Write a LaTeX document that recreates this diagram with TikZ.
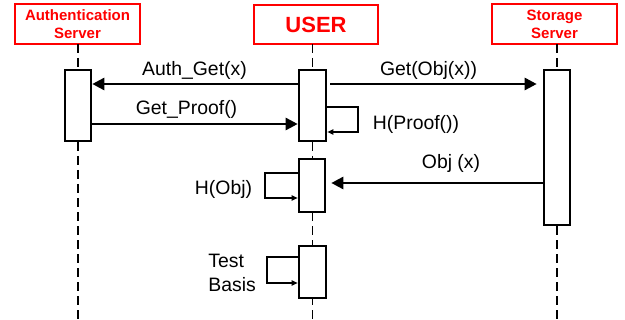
\documentclass[tikz,border=0pt]{standalone}
\usepackage{fontspec}
\setmainfont{Liberation Sans}
\usetikzlibrary{arrows.meta}
\begin{document}
\begin{tikzpicture}[x=0.5pt,y=-0.5pt,
  hdr/.style={draw=red, line width=1.2pt, text=red, fill=white, align=center, inner sep=0pt},
  act/.style={draw=black, line width=1.3pt, fill=white, inner sep=0pt},
  life/.style={line width=0.9pt, dash pattern=on 4.5pt off 2.5pt},
  msg/.style={line width=1.3pt, -{Triangle[length=6pt,width=6pt]}},
  selfmsg/.style={line width=1pt, -{Triangle[length=3pt,width=2.6pt]}},
  lbl/.style={font=\fontsize{9.7}{11.5}\selectfont, inner sep=0pt}]
\useasboundingbox (0,0) rectangle (625,320);
\coordinate (bottom) at (0,322);
% headers
\node[hdr, minimum width=62.5pt, minimum height=20pt, font=\bfseries\fontsize{7.5}{9}\selectfont] (auth) at (77.5,24) {Authentication\\Server};
\node[hdr, minimum width=62pt, minimum height=19.5pt, font=\bfseries\fontsize{11}{13}\selectfont] (user) at (316,24.5) {USER};
\node[hdr, minimum width=62.5pt, minimum height=20pt, font=\bfseries\fontsize{7.5}{9}\selectfont] (stor) at (554.5,24) {Storage\\Server};
% lifelines
\coordinate (la) at (78,44);
\coordinate (lu) at (312.5,44);
\coordinate (ls) at (557,44);
\draw[life] (la) -- (la |- bottom);
\draw[life] (lu) -- (lu |- bottom);
\draw[life] (ls) -- (ls |- bottom);
% activations
\node[act, minimum width=13pt, minimum height=35.5pt] (aa) at (78,105.5) {};
\node[act, minimum width=13.5pt, minimum height=35.5pt] (ua1) at (312.5,105.5) {};
\node[act, minimum width=13pt, minimum height=77.5pt] (sa) at (557,147.5) {};
\node[act, minimum width=13pt, minimum height=26.5pt] (ua2) at (312,185.5) {};
\node[act, minimum width=13.5pt, minimum height=26pt] (ua3) at (312.5,272) {};
% levels
\coordinate (r84) at (0,84);
\coordinate (r124) at (0,124);
\coordinate (r183) at (0,183);
\coordinate (r107) at (0,107);
\coordinate (r132) at (0,132);
\coordinate (r173) at (0,173);
\coordinate (r198) at (0,198);
\coordinate (r257) at (0,257);
\coordinate (r283) at (0,283);
% messages
\draw[msg] (ua1.west |- r84) -- (aa.east |- r84);
\draw[msg] (aa.east |- r124) -- (ua1.west |- r124);
\draw[msg, shorten <=1.5pt, shorten >=3pt] (ua1.east |- r84) -- (sa.west |- r84);
\draw[msg, shorten >=2.5pt] (sa.west |- r183) -- (ua2.east |- r183);
% self messages
\coordinate (hp1) at (358,107);
\coordinate (hp2) at (358,132);
\draw[selfmsg] (ua1.east |- r107) -- (hp1) -- (hp2) -- (ua1.east |- r132);
\coordinate (ho1) at (265,173);
\coordinate (ho2) at (265,198);
\draw[selfmsg] (ua2.west |- r173) -- (ho1) -- (ho2) -- (ua2.west |- r198);
\coordinate (tb1) at (267,257);
\coordinate (tb2) at (267,283);
\draw[selfmsg] (ua3.west |- r257) -- (tb1) -- (tb2) -- (ua3.west |- r283);
% labels
\node[lbl] (l1) at (194.5,70) {Auth\_Get(x)};
\node[lbl] (l2) at (186.5,109) {Get\_Proof()};
\node[lbl] (l3) at (428.5,70) {Get(Obj(x))};
\node[lbl] (l4) at (416,124) {H(Proof())};
\node[lbl] (l5) at (451,163) {Obj (x)};
\node[lbl] (l6) at (223.5,189) {H(Obj)};
\node[lbl, anchor=west] (l7) at (208,261) {Test};
\node[lbl, anchor=west] (l8) at (208,285) {Basis};
\end{tikzpicture}
\end{document}
